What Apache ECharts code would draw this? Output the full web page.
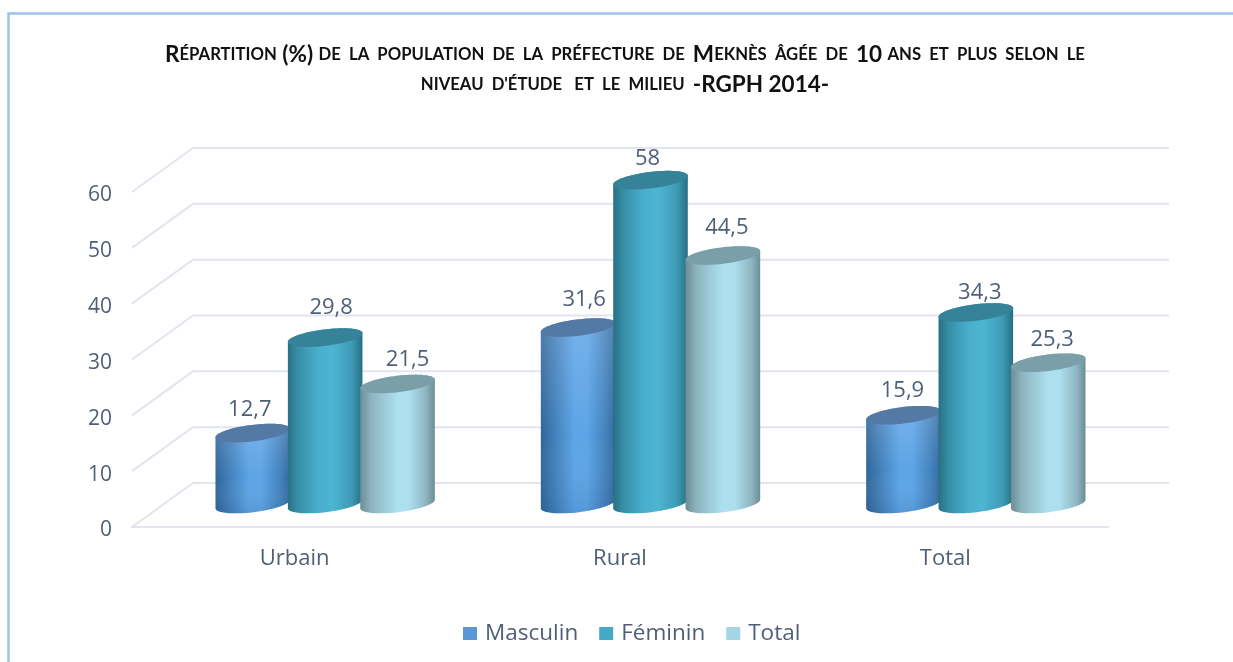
<!DOCTYPE html>
<html>
<head>
<meta charset="utf-8">
<style>html,body{margin:0;padding:0;background:#fff;overflow:hidden}#c{width:1233px;height:662px}</style>
<script src="https://cdn.jsdelivr.net/npm/echarts@6/dist/echarts.min.js"></script>
</head>
<body>
<div id="c"></div>
<script>
const categories = ['Urbain', 'Rural', 'Total'];
const masculin = [12.7, 31.6, 15.9];
const feminin = [29.8, 58, 34.3];
const totalPop = [21.5, 44.5, 25.3];
const yTicks = [0, 10, 20, 30, 40, 50, 60];

const DEPTH_X = 61, DEPTH_Y = 44, TILT = -7 * Math.PI / 180, RY = 8.2;
const TEXT = '#4f5f78';
const FONT = '"Open Sans", sans-serif';
// hand placement of the value labels, per series then per category
const labelNudge = [
  [[-3, 1], [6, -4], [-1, 0]],
  [[6, -6], [-3, 3], [4, 4]],
  [[10, 0], [4, -4], [4, 1]]
];

function grad(stops) {
  return { type: 'linear', x: 0, y: 0, x2: 1, y2: 0,
    colorStops: stops.map(s => ({ offset: s[0], color: s[1] })) };
}
const styles = [
  { legend: '#5b97d8', top: '#5579a5',
    body: grad([[0, '#2f6699'], [0.15, '#3f7bb4'], [0.45, '#5da4e6'], [0.62, '#5da4e6'], [0.88, '#4180bb'], [1, '#33699b']]),
    sheen: true },
  { legend: '#45a8c4', top: '#368399',
    body: grad([[0, '#276f83'], [0.12, '#358ca4'], [0.4, '#49aecb'], [0.6, '#4db4d1'], [0.85, '#3e9cb6'], [1, '#276f84']]) },
  { legend: '#a4d5e4', top: '#7b9fa9',
    body: grad([[0, '#6c8d96'], [0.15, '#8db5c0'], [0.5, '#ade0ee'], [0.65, '#ade0ee'], [0.88, '#8eb6c1'], [1, '#6b8d96']]) }
];
const sheenFill = { type: 'linear', x: 0, y: 0, x2: 0, y2: 1, colorStops: [
  { offset: 0, color: 'rgba(255,255,255,0.16)' },
  { offset: 0.6, color: 'rgba(255,255,255,0)' },
  { offset: 1, color: 'rgba(0,40,90,0.10)' }] };

function ellipsePoint(cx, cy, a, t) {
  return [
    cx + a * Math.cos(t) * Math.cos(TILT) - RY * Math.sin(t) * Math.sin(TILT),
    cy + a * Math.cos(t) * Math.sin(TILT) + RY * Math.sin(t) * Math.cos(TILT)
  ];
}

function cylinder(seriesIndex, style) {
  const seriesPos = seriesIndex - 1;
  return function (params, api) {
    const cat = api.value(0), val = api.value(1);
    const band = api.size([1, 0])[0];
    const step = band * 0.2225, a = band * 0.1155;
    const top = api.coord([cat, val]), base = api.coord([cat, 0]);
    const cx = base[0] + DEPTH_X / 2 + seriesPos * step;
    const by = base[1] - DEPTH_Y / 2 - 1, ty = top[1] - DEPTH_Y / 2 - 1;
    const body = [], lid = [];
    const N = 48;
    for (let i = 0; i <= N; i++) body.push(ellipsePoint(cx, by, a, Math.PI * i / N));
    for (let i = 0; i <= N; i++) body.push(ellipsePoint(cx, ty, a, Math.PI + Math.PI * i / N));
    for (let i = 0; i < N * 2; i++) lid.push(ellipsePoint(cx, ty, a, Math.PI * i / N));
    const nudge = labelNudge[seriesIndex][cat];
    const children = [{ type: 'polygon', shape: { points: body }, style: { fill: style.body } }];
    if (style.sheen) children.push({ type: 'polygon', shape: { points: body }, style: { fill: sheenFill } });
    children.push(
      { type: 'polygon', shape: { points: lid }, style: { fill: style.top } },
      { type: 'text', z2: 10, style: {
          x: cx + nudge[0], y: ty - 24 + nudge[1], text: String(val).replace('.', ','),
          fill: TEXT, font: '22px ' + FONT, textAlign: 'center', textVerticalAlign: 'middle' } }
    );
    return { type: 'group', children };
  };
}

function wall(params, api) {
  const p = api.coord([0, api.value(1)]);
  const cs = params.coordSys;
  const x0 = cs.x, y0 = p[1];
  return {
    type: 'polyline',
    shape: { points: [[x0, y0], [x0 + DEPTH_X, y0 - DEPTH_Y], [x0 + cs.width + DEPTH_X, y0 - DEPTH_Y]] },
    style: { stroke: '#e2e5ee', lineWidth: 2, fill: null }
  };
}

function barSeries(name, values, i) {
  return {
    name, type: 'custom', clip: false, silent: true,
    itemStyle: { color: styles[i].legend },
    renderItem: cylinder(i, styles[i]),
    data: values.map((v, k) => [k, v]),
    encode: { x: 0, y: 1 }
  };
}

const s = t => '{s|' + t + '}', b = t => '{b|' + t + '}';
const titleText =
  b('R') + s('ÉPARTITION') + b(' (%) ') + s('DE  LA  POPULATION  DE  LA  PRÉFECTURE  DE  ') +
  b('M') + s('EKNÈS  ÂGÉE  DE  ') + b('10 ') + s('ANS  ET  PLUS  SELON  LE') + '\n' +
  s("NIVEAU  D'ÉTUDE   ET  LE  MILIEU  ") + b('-RGPH 2014-');

const chart = echarts.init(document.getElementById('c'), null, { renderer: 'canvas' });
chart.setOption({
  animation: false,
  backgroundColor: '#ffffff',
  title: {
    left: 620, top: 35, textAlign: 'center',
    text: titleText,
    textStyle: {
      rich: {
        b: { fontFamily: 'Lato', fontWeight: 'bold', fontSize: 22.5, color: '#111111', lineHeight: 30 },
        s: { fontFamily: 'Lato', fontWeight: 'bold', fontSize: 16.7, color: '#111111', lineHeight: 30 }
      }
    }
  },
  legend: {
    left: 458, top: 617, icon: 'rect', itemWidth: 14, itemHeight: 13, itemGap: 21,
    data: ['Masculin', 'Féminin', 'Total'],
    textStyle: { color: TEXT, fontFamily: 'Open Sans', fontSize: 22.5, padding: [0, 0, 0, 3] }
  },
  grid: { left: 132, right: 125, top: 192, bottom: 135 },
  xAxis: {
    type: 'category', data: categories,
    axisLine: { lineStyle: { color: '#e2e5ee', width: 2 } },
    axisTick: { show: false },
    axisLabel: { color: TEXT, fontFamily: 'Open Sans', fontSize: 22, margin: 21 }
  },
  yAxis: {
    type: 'value', min: 0, max: 60, interval: 10,
    axisLine: { show: false }, axisTick: { show: false }, splitLine: { show: false },
    axisLabel: { margin: 20, formatter: '{t|{value}}',
      rich: { t: { color: TEXT, fontFamily: 'Open Sans', fontSize: 21, padding: [7, 0, 0, 0] } } }
  },
  graphic: [{
    type: 'polyline', silent: true,
    shape: { points: [[8.5, 662], [8.5, 13.5], [1233, 13.5]] },
    style: { stroke: '#9cc3e8', lineWidth: 2.5, fill: null }
  }],
  series: [
    { name: 'grille', type: 'custom', clip: false, silent: true, renderItem: wall,
      data: yTicks.map(t => [0, t]), encode: { x: 0, y: 1 } },
    barSeries('Masculin', masculin, 0),
    barSeries('Féminin', feminin, 1),
    barSeries('Total', totalPop, 2)
  ]
});
</script>
</body>
</html>
